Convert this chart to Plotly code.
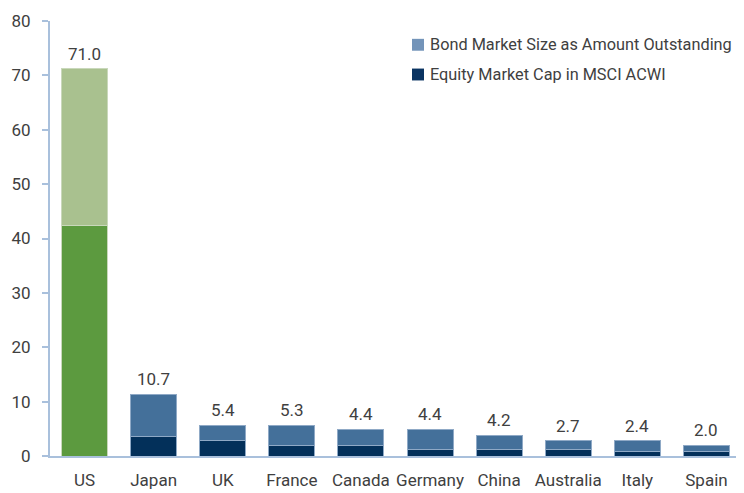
import plotly.graph_objects as go

categories = ["US", "Japan", "UK", "France", "Canada", "Germany", "China", "Australia", "Italy", "Spain"]
equity_cap = [42.3, 3.5, 2.9, 2.0, 2.0, 1.2, 1.2, 1.2, 0.8, 0.8]
bond_size = [28.9, 7.9, 2.8, 3.7, 2.9, 3.7, 2.6, 1.6, 2.0, 1.2]
total_labels = ["71.0", "10.7", "5.4", "5.3", "4.4", "4.4", "4.2", "2.7", "2.4", "2.0"]
y_ticks = [0, 10, 20, 30, 40, 50, 60, 70, 80]

FONT = "Liberation Sans Narrow, Noto Sans Condensed, Arial Narrow, Roboto, sans-serif"
TXT = "#404040"
AXIS = "#a9c0dc"

eq_colors = ["#5c9a3f" if c == "US" else "#03305a" for c in categories]
bond_colors = ["#a9c18f" if c == "US" else "#44709a" for c in categories]
edge_colors = ["#c9d8bb" if c == "US" else "#8fa9c6" for c in categories]

fig = go.Figure()
fig.add_trace(go.Bar(x=categories, y=equity_cap,
                     marker=dict(color=eq_colors, line=dict(width=1, color=edge_colors)),
                     showlegend=False, name="Equity Market Cap in MSCI ACWI"))
fig.add_trace(go.Bar(x=categories, y=bond_size,
                     marker=dict(color=bond_colors, line=dict(width=1, color=edge_colors)),
                     showlegend=False, name="Bond Market Size as Amount Outstanding"))

totals = [e + b for e, b in zip(equity_cap, bond_size)]
for c, t, lab in zip(categories, totals, total_labels):
    fig.add_annotation(x=c, y=t, text=lab, showarrow=False, yanchor="bottom", yshift=3,
                       font=dict(family=FONT, size=17, color=TXT))

# page body has an 8px margin: figure is drawn offset by (8, 8)
OFF = 8
W, H, L, T = 691.0, 439.0, 50.0 - OFF, 18.0 - OFF
def px(x):
    return (x - OFF - L) / W
def py(y):
    return (T + H - (y - OFF)) / H

legend_items = [("Bond Market Size as Amount Outstanding", "#7394b9", 42),
                ("Equity Market Cap in MSCI ACWI", "#0a3462", 72)]
for name, col, yc in legend_items:
    fig.add_shape(type="rect", xref="paper", yref="paper", x0=px(412), x1=px(424),
                  y0=py(yc + 6), y1=py(yc - 6), fillcolor=col, line=dict(width=0))
    fig.add_annotation(xref="paper", yref="paper", x=px(428), y=py(yc), text=name, showarrow=False,
                       xanchor="left", yanchor="middle", font=dict(family=FONT, size=16.3, color=TXT))

fig.update_layout(
    width=744 - OFF, height=493 - OFF,
    margin=dict(l=int(L), r=3, t=int(T), b=36),
    barmode="stack", bargap=0.335,
    plot_bgcolor="white", paper_bgcolor="white",
    font=dict(family=FONT, size=17, color=TXT),
)
fig.update_yaxes(range=[0, 80], tickvals=y_ticks, showgrid=False, zeroline=False,
                 showline=True, linecolor=AXIS, linewidth=2, ticks="outside", ticklen=6,
                 tickcolor=AXIS, tickwidth=2, ticklabelstandoff=8, ticklabeloverflow="allow",
                 tickfont=dict(family=FONT, size=17, color=TXT))
fig.update_xaxes(showline=True, linecolor=AXIS, linewidth=2, ticks="", showgrid=False,
                 ticklabelstandoff=8, ticklabeloverflow="allow",
                 tickfont=dict(family=FONT, size=17, color=TXT))

fig.write_html("out.html")
